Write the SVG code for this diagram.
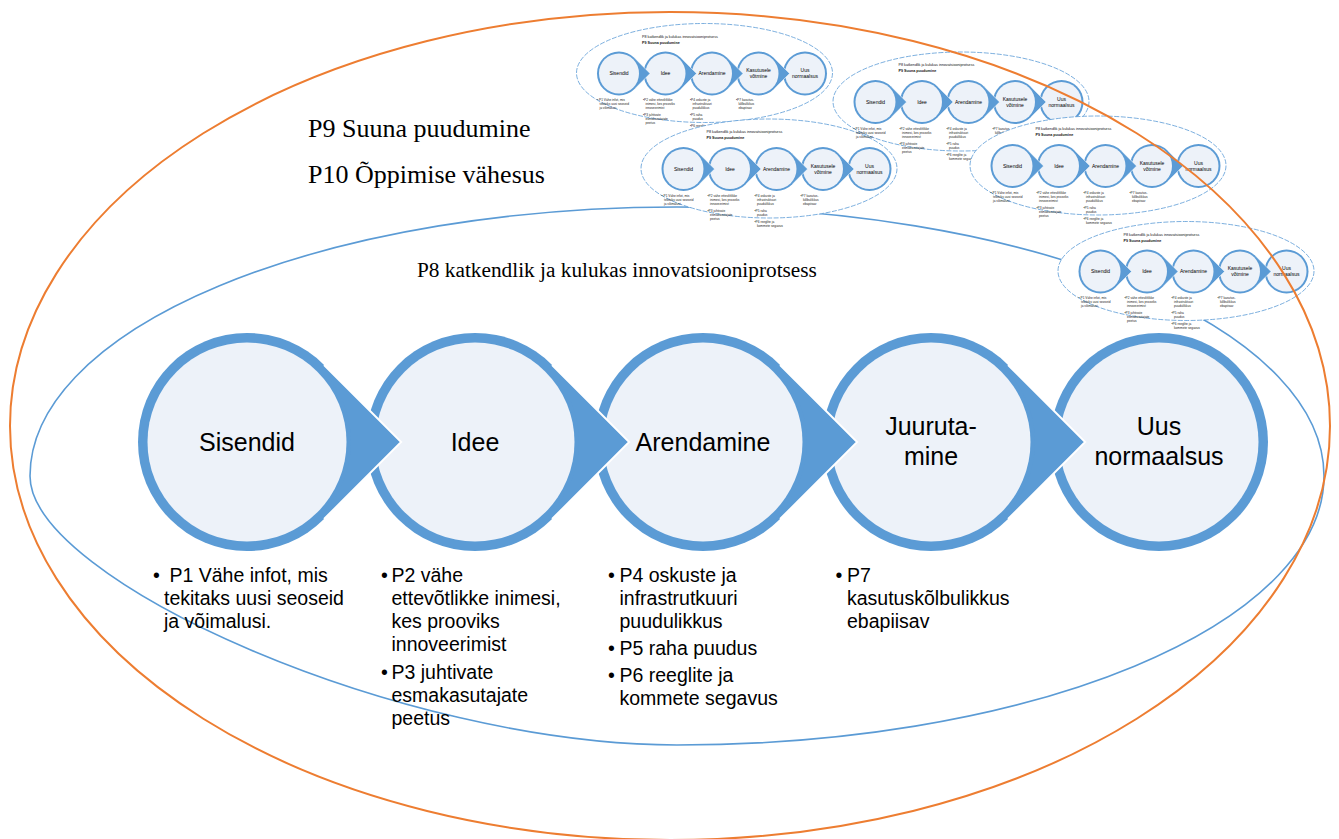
<svg xmlns="http://www.w3.org/2000/svg" width="1339" height="839" viewBox="0 0 1339 839">
<style>
.ring{fill:#5B9BD5}
.inner{fill:#EDF2F9}
.wedge{fill:#5B9BD5}
.edge{fill:none;stroke:#fff;stroke-width:2;stroke-linejoin:miter}
.lbl{font-family:"Liberation Sans",Arial,sans-serif;font-size:25px;fill:#000;text-anchor:middle}
.bul{font-family:"Liberation Sans",Arial,sans-serif;font-size:19.5px;fill:#000}
.ser{font-family:"Liberation Serif","Times New Roman",serif;fill:#000}
.tl{font-family:"Liberation Sans",Arial,sans-serif;font-size:5px;fill:#000;text-anchor:middle}
.tb{font-family:"Liberation Sans",Arial,sans-serif;font-size:3.2px;fill:#222}
.tt{font-family:"Liberation Sans",Arial,sans-serif;font-size:3.7px;fill:#111}
.tedge{fill:none;stroke:#fff;stroke-width:0.6}
</style>
<defs>
<g id="thumb">
  <ellipse cx="128.5" cy="50" rx="128" ry="49.5" fill="#fff" stroke="#5B9BD5" stroke-width="0.8" stroke-dasharray="5 1.5"/>
  <text class="tt" x="66" y="14.5">P8 katkendlik ja kulukas innovatsiooniprotsess</text>
  <text class="tt" x="66" y="20.5" font-weight="bold">P9 Suuna puudumine</text>
  <circle class="ring" cx="43" cy="50.5" r="22"/><circle class="inner" cx="43" cy="50.5" r="20"/>
  <circle class="ring" cx="89.5" cy="50.5" r="22"/><circle class="inner" cx="89.5" cy="50.5" r="20"/>
  <circle class="ring" cx="136" cy="50.5" r="22"/><circle class="inner" cx="136" cy="50.5" r="20"/>
  <circle class="ring" cx="182.5" cy="50.5" r="22"/><circle class="inner" cx="182.5" cy="50.5" r="20"/>
  <circle class="ring" cx="229" cy="50.5" r="22"/><circle class="inner" cx="229" cy="50.5" r="20"/>
  <path class="wedge" d="M58.56 34.94 L74.11 50.5 L58.56 66.06 L57.85 65.35 A21 21 0 0 0 57.85 35.65Z"/>
  <path class="tedge" d="M58.56 34.94 L74.11 50.5 L58.56 66.06"/>
  <path class="wedge" d="M105.06 34.94 L120.61 50.5 L105.06 66.06 L104.35 65.35 A21 21 0 0 0 104.35 35.65Z"/>
  <path class="tedge" d="M105.06 34.94 L120.61 50.5 L105.06 66.06"/>
  <path class="wedge" d="M151.56 34.94 L167.11 50.5 L151.56 66.06 L150.85 65.35 A21 21 0 0 0 150.85 35.65Z"/>
  <path class="tedge" d="M151.56 34.94 L167.11 50.5 L151.56 66.06"/>
  <path class="wedge" d="M198.06 34.94 L213.61 50.5 L198.06 66.06 L197.35 65.35 A21 21 0 0 0 197.35 35.65Z"/>
  <path class="tedge" d="M198.06 34.94 L213.61 50.5 L198.06 66.06"/>
  <text class="tl" x="43" y="52.3">Sisendid</text>
  <text class="tl" x="89.5" y="52.3">Idee</text>
  <text class="tl" x="136" y="52.3">Arendamine</text>
  <text class="tl" x="182.5" y="49">Kasutusele</text>
  <text class="tl" x="182.5" y="55.3">võtmine</text>
  <text class="tl" x="229" y="49">Uus</text>
  <text class="tl" x="229" y="55.3">normaalsus</text>
  <text class="tb" x="21" y="78">• P1 Vähe infot, mis</text>
  <text class="tb" x="23.5" y="82">tekitaks uusi seoseid</text>
  <text class="tb" x="23.5" y="86">ja võimalusi.</text>
  <text class="tb" x="67" y="78">•P2 vähe ettevõtlikke</text>
  <text class="tb" x="69.5" y="82">inimesi, kes prooviks</text>
  <text class="tb" x="69.5" y="86">innoveerimist</text>
  <text class="tb" x="67" y="93">•P3 juhtivate</text>
  <text class="tb" x="69.5" y="97">esmakasutajate</text>
  <text class="tb" x="69.5" y="101">peetus</text>
  <text class="tb" x="114" y="78">•P4 oskuste ja</text>
  <text class="tb" x="116.5" y="82">infrastruktuuri</text>
  <text class="tb" x="116.5" y="86">puudulikkus</text>
  <text class="tb" x="114" y="93">•P5 raha</text>
  <text class="tb" x="116.5" y="97">puudus</text>
  <text class="tb" x="114" y="104">•P6 reeglite ja</text>
  <text class="tb" x="116.5" y="108">kommete segavus</text>
  <text class="tb" x="160" y="78">•P7 kasutus-</text>
  <text class="tb" x="162.5" y="82">kõlbulikkus</text>
  <text class="tb" x="162.5" y="86">ebapiisav</text>
</g>
</defs>
<rect width="1339" height="839" fill="#fff"/>

<g id="container-p8">
  <path d="M30 476 A647 269 0 0 1 677 207 A647 269 0 0 1 1324 476 A647 269 0 0 1 677 745 C400 745 30 580 30 476Z" fill="none" stroke="#5B9BD5" stroke-width="1.6"/>
</g>

<g id="label-p9"><text class="ser" font-size="26" x="308" y="137">P9 Suuna puudumine</text></g>
<g id="label-p10"><text class="ser" font-size="26" x="308" y="183">P10 Õppimise vähesus</text></g>
<g id="label-p8"><text class="ser" font-size="21.3" x="417" y="277">P8 katkendlik ja kulukas innovatsiooniprotsess</text></g>

<g id="thumbnails">
  <use href="#thumb" x="576" y="23"/>
  <use href="#thumb" x="640.5" y="118.5"/>
  <use href="#thumb" x="832.5" y="51.5"/>
  <use href="#thumb" x="969.5" y="115.5"/>
  <use href="#thumb" x="1057.5" y="221"/>
</g>

<g id="node-sisendid">
  <circle class="ring" cx="247" cy="442" r="109"/><circle class="inner" cx="247" cy="442" r="99.5"/>
  <text class="lbl" x="247" y="451">Sisendid</text>
</g>
<g id="node-idee">
  <circle class="ring" cx="475" cy="442" r="109"/><circle class="inner" cx="475" cy="442" r="99.5"/>
  <text class="lbl" x="475" y="451">Idee</text>
</g>
<g id="node-arendamine">
  <circle class="ring" cx="703" cy="442" r="109"/><circle class="inner" cx="703" cy="442" r="99.5"/>
  <text class="lbl" x="703" y="451">Arendamine</text>
</g>
<g id="node-juurutamine">
  <circle class="ring" cx="931" cy="442" r="109"/><circle class="inner" cx="931" cy="442" r="99.5"/>
  <text class="lbl" x="931" y="435">Juuruta-</text>
  <text class="lbl" x="931" y="465">mine</text>
</g>
<g id="node-uus-normaalsus">
  <circle class="ring" cx="1159" cy="442" r="109"/><circle class="inner" cx="1159" cy="442" r="99.5"/>
  <text class="lbl" x="1159" y="435">Uus</text>
  <text class="lbl" x="1159" y="465">normaalsus</text>
</g>

<g id="connectors">
  <path class="wedge" d="M324.07 364.93 L401.15 442 L324.07 519.07 L320.54 515.54 A104 104 0 0 0 320.54 368.46Z"/>
  <path class="edge" d="M324.07 364.93 L401.15 442 L324.07 519.07"/>
  <path class="wedge" d="M552.07 364.93 L629.15 442 L552.07 519.07 L548.54 515.54 A104 104 0 0 0 548.54 368.46Z"/>
  <path class="edge" d="M552.07 364.93 L629.15 442 L552.07 519.07"/>
  <path class="wedge" d="M780.07 364.93 L857.15 442 L780.07 519.07 L776.54 515.54 A104 104 0 0 0 776.54 368.46Z"/>
  <path class="edge" d="M780.07 364.93 L857.15 442 L780.07 519.07"/>
  <path class="wedge" d="M1008.07 364.93 L1085.15 442 L1008.07 519.07 L1004.54 515.54 A104 104 0 0 0 1004.54 368.46Z"/>
  <path class="edge" d="M1008.07 364.93 L1085.15 442 L1008.07 519.07"/>
</g>

<g id="bullets-sisendid">
  <text class="bul" x="153" y="582">•</text>
  <text class="bul" x="169.5" y="582">P1 Vähe infot, mis</text>
  <text class="bul" x="164" y="605">tekitaks uusi seoseid</text>
  <text class="bul" x="164" y="628">ja võimalusi.</text>
</g>
<g id="bullets-idee">
  <text class="bul" x="381" y="582">•</text>
  <text class="bul" x="391.5" y="582">P2 vähe</text>
  <text class="bul" x="391.5" y="605">ettevõtlikke inimesi,</text>
  <text class="bul" x="391.5" y="628">kes prooviks</text>
  <text class="bul" x="391.5" y="651">innoveerimist</text>
  <text class="bul" x="381" y="679">•</text>
  <text class="bul" x="391.5" y="679">P3 juhtivate</text>
  <text class="bul" x="391.5" y="702">esmakasutajate</text>
  <text class="bul" x="391.5" y="725">peetus</text>
</g>
<g id="bullets-arendamine">
  <text class="bul" x="608" y="582">•</text>
  <text class="bul" x="619.5" y="582">P4 oskuste ja</text>
  <text class="bul" x="619.5" y="605">infrastrutkuuri</text>
  <text class="bul" x="619.5" y="628">puudulikkus</text>
  <text class="bul" x="608" y="655">•</text>
  <text class="bul" x="619.5" y="655">P5 raha puudus</text>
  <text class="bul" x="608" y="682">•</text>
  <text class="bul" x="619.5" y="682">P6 reeglite ja</text>
  <text class="bul" x="619.5" y="705">kommete segavus</text>
</g>
<g id="bullets-juurutamine">
  <text class="bul" x="835.5" y="582">•</text>
  <text class="bul" x="847" y="582">P7</text>
  <text class="bul" x="847" y="605">kasutuskõlbulikkus</text>
  <text class="bul" x="847" y="628">ebapiisav</text>
</g>

<g id="container-p9-p10">
  <ellipse cx="670" cy="426" rx="660" ry="414" fill="none" stroke="#ED7D31" stroke-width="2"/>
</g>
</svg>
